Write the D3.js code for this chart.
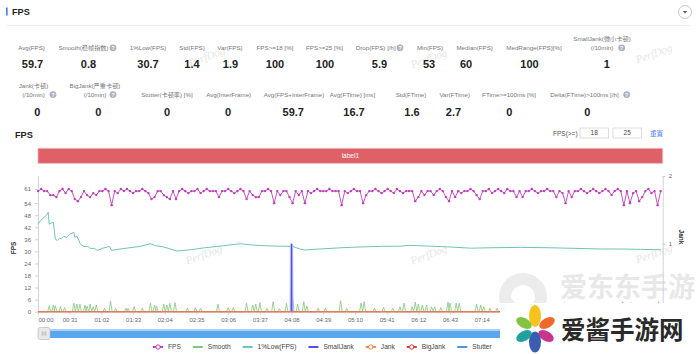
<!DOCTYPE html>
<html>
<head>
<meta charset="utf-8">
<script src="https://cdn.jsdelivr.net/npm/d3@7"></script>
<style>
  body { margin: 0; background: #fff; }
  svg { display: block; font-family: "Liberation Sans", Arial, "Noto Sans CJK SC", sans-serif; }
</style>
</head>
<body>
<svg id="fps-chart" width="700" height="354"></svg>
<script>
// ---- data ----
const durationSec = 611;
const fpsStep = 3; // one FPS sample every 3 s
const fpsValues = [
  60,61,60,60,58,58,57,60,61,59,61,60,56,55,57,60,58,
  57,59,58,60,60,61,60,53,60,59,61,60,61,60,59,60,60,
  61,60,59,56,57,60,60,58,57,56,60,56,60,61,60,59,60,
  60,61,59,60,61,60,60,60,57,60,60,61,60,59,60,61,60,
  56,60,58,57,57,60,60,61,60,54,60,58,60,60,57,54,60,
  58,60,54,60,59,60,61,60,60,60,61,60,60,60,53,60,59,
  60,61,60,60,54,58,60,60,61,60,59,60,61,60,59,61,60,
  59,60,60,60,55,57,60,58,60,60,58,60,61,60,57,55,60,
  57,60,59,60,60,61,60,58,56,60,60,61,59,60,61,60,59,
  61,60,60,57,60,57,60,60,61,60,59,60,60,61,60,60,57,
  60,59,54,60,57,60,60,61,60,59,60,61,60,59,60,61,60,
  58,60,61,60,53,60,54,59,60,55,57,60,61,59,60,53,60
];

const lowFpsTimes = [0,2,5,9,10,11,13,15,17,19,21,23,25,28,31,35,36,38,40,41,43,45,49,51,55,
  58,63,70,72,78,85,93,100,110,115,122,129,136,149,163,176,198,209,222,237,249,256,261,276,296,
  315,335,354,364,384,403,423,442,472,501,526,550,570,589,609];
const lowFpsValues = [43.5,45,46.5,48.5,49.5,43.5,44,44.5,36,35.5,36.5,36.5,37.5,37,38.5,39.5,37,37.5,35.5,34,33,32.5,32.5,31.5,31.5,
  30.5,31.5,32.5,30.5,31,31.5,32,32.5,33.8,32.8,32.3,31.3,30.2,30.8,31.8,32.5,33.8,33.2,32.8,32.6,32.5,31.2,30.7,31.2,31.8,
  32.2,32.5,32.6,33,32.6,32.2,31.6,31.8,32,31.8,31.5,31.2,31.2,31.0,30.8];

// Smooth: moments where it left 0
const smoothTimes = [11,15,17,22,26,35,38,41,46,48,51,54,57,65,71,76,86,88,94,102,110,114,116,123,126,129,134,146,154,159,
  176,186,191,204,210,213,217,224,230,236,243,249,254,260,263,274,281,296,302,316,319,329,338,347,354,358,366,369,372,376,
  380,385,388,394,401,403,409,412,429,433,436,442,449,469,475,488,506,515,522,536,548,561,572,580,588,592,607];
const smoothValues = [3,3.3,3,2.5,2,4.2,3.8,3.7,3.2,2.8,3.8,2.5,3.3,1.7,5.3,1.7,1.7,1.7,2.5,1.7,4.2,3.3,2.8,3.7,3.3,4.2,4.5,1.7,2,1.7,
  3.7,2,2,4.2,3.3,3.8,4.5,1.7,5,1.5,4.2,7.2,3.7,5,2.8,1.7,1.7,5.5,1.7,4.3,5,1.7,2.2,1.7,2.5,4.3,2.5,4.8,3.8,3.3,
  3.3,2.5,2.5,2,4.8,4.3,4.3,4.3,3.8,3.3,2.5,1.7,1.7,3,3,2,3,4.5,3,2,2,2.5,5,4.5,4,3,5];

const smallJankTimes = [248];
const smallJankValues = [1];
const jankTimes = [];
const jankValues = [];
const bigJankTimes = [];
const bigJankValues = [];

// only the labels that are not hidden behind the corner logo
const xTickLabels = ["00:00","00:31","01:02","01:33","02:04","02:35","03:06","03:37","04:08","04:39",
  "05:10","05:41","06:12","06:43","07:14"];
const fpsTickValues = [0, 6, 12, 18, 24, 30, 36, 42, 48, 54, 61];
const jankTickValues = [1, 2];

const legendNames = ["FPS", "Smooth", "1%Low(FPS)", "SmallJank", "Jank", "BigJank", "Stutter"];

const statLabelsTop = ["Avg(FPS)", "Smooth(稳帧指数)", "1%Low(FPS)", "Std(FPS)", "Var(FPS)", "FPS>=18 [%]",
  "FPS>=25 [%]", "Drop(FPS) [/h]", "Min(FPS)", "Median(FPS)", "MedRange(FPS)[%]", "SmallJank(微小卡顿)|(/10min)"];
const statValuesTop = ["59.7", "0.8", "30.7", "1.4", "1.9", "100", "100", "5.9", "53", "60", "100", "1"];
const statLabelsBottom = ["Jank(卡顿)|(/10min)", "BigJank(严重卡顿)|(/10min)", "Stutter(卡顿率) [%]", "Avg(InterFrame)",
  "Avg(FPS+InterFrame)", "Avg(FTime) [ms]", "Std(FTime)", "Var(FTime)", "FTime>=100ms [%]", "Delta(FTime)>100ms [/h]"];
const statValuesBottom = ["0", "0", "0", "0", "59.7", "16.7", "1.6", "2.7", "0", "0"];

const fpsThresholds = ["18", "25"];
const bandLabel = "label1";

// ---- drawing ----
const colors = {
  FPS: "#c13cbd", Smooth: "#7cc87c", "1%Low(FPS)": "#6fc4b9", SmallJank: "#5050ee",
  Jank: "#f2874a", BigJank: "#d8393a", Stutter: "#4f95ea"
};

function drawStats(svg) {
  const topLayout = {
    labelX: [31.5, 83.5, 148, 192, 230, 275, 324.5, 375.8, 430, 474.7, 534, 602],
    valueX: [32.5, 88.5, 148, 192, 230.5, 275, 325, 379.5, 429, 466, 529.5, 606.7],
    helpX: [null, 113, null, null, null, null, null, 400, null, null, null, 621.7],
    labelY: 50, valueY: 68
  };
  const bottomLayout = {
    labelX: [33.5, 95, 167, 228.7, 294, 352.5, 411, 454.7, 509, 584.5],
    valueX: [37.3, 98.3, 167, 228, 293.3, 354, 412, 453.5, 509.3, 587.3],
    helpX: [53, 113, null, null, null, null, null, null, null, 626.7],
    labelY: 96.8, valueY: 115.5
  };

  const drawRow = (labels, values, lay) => {
    labels.forEach((lab, i) => {
      const lines = lab.split("|");
      lines.forEach((ln, j) => {
        svg.append("text")
          .attr("x", lay.labelX[i])
          .attr("y", lay.labelY - (lines.length - 1 - j) * 8.8)
          .attr("text-anchor", "middle")
          .attr("font-size", 6.2)
          .attr("fill", "#777")
          .text(ln);
      });
      if (lay.helpX[i] != null) {
        const g = svg.append("g").attr("transform", `translate(${lay.helpX[i]},${lay.labelY - 2.2})`);
        g.append("circle").attr("r", 3.4).attr("fill", "#aab3c2");
        g.append("text").attr("y", 2).attr("text-anchor", "middle")
          .attr("font-size", 5.2).attr("font-weight", "bold").attr("fill", "#fff").text("?");
      }
      svg.append("text")
        .attr("x", lay.valueX[i])
        .attr("y", lay.valueY)
        .attr("text-anchor", "middle")
        .attr("font-size", 11)
        .attr("font-weight", "bold")
        .attr("fill", "#222")
        .text(values[i]);
    });
  };
  drawRow(statLabelsTop, statValuesTop, topLayout);
  drawRow(statLabelsBottom, statValuesBottom, bottomLayout);
}

function spikePoints(times, values, half, end) {
  // baseline 0 with a narrow peak at every recorded moment
  const pts = [[0, 0]];
  times.forEach((t, i) => pts.push([t - half, 0], [t, values[i]], [t + half, 0]));
  pts.push([end, 0]);
  return pts;
}

function drawChart() {
  const svg = d3.select("#fps-chart");
  const lastSample = fpsStep * (fpsValues.length - 1);

  // 1. watermarks (under everything)
  const wm = [[208, 60], [430, 62], [655, 57], [205, 258], [430, 258], [655, 257]];
  wm.forEach(([cx, cy]) => {
    svg.append("text")
      .attr("transform", `translate(${cx},${cy}) rotate(-20)`)
      .attr("text-anchor", "middle")
      .attr("font-family", "'Liberation Serif', 'DejaVu Serif', serif")
      .attr("font-style", "italic")
      .attr("font-size", 11)
      .attr("fill", "#e6e6e6")
      .text("PerfDog");
  });

  // 2. page header
  svg.append("rect").attr("x", 6).attr("y", 7.5).attr("width", 1.6).attr("height", 8).attr("fill", "#3b7cf5");
  svg.append("text").attr("x", 12).attr("y", 15).attr("font-size", 9.2).attr("font-weight", "bold")
    .attr("fill", "#222").text("FPS");
  svg.append("line").attr("x1", 7).attr("x2", 690).attr("y1", 25.5).attr("y2", 25.5)
    .attr("stroke", "#ececec");
  svg.append("circle").attr("cx", 685).attr("cy", 12).attr("r", 6.5)
    .attr("fill", "#fff").attr("stroke", "#c8c8c8");
  svg.append("path").attr("d", "M682.6,10.9 L687.4,10.9 L685,13.5 Z").attr("fill", "#666");

  drawStats(svg);

  // 3. chart header
  svg.append("text").attr("x", 15).attr("y", 137.5).attr("font-size", 9.2).attr("font-weight", "bold")
    .attr("fill", "#222").text("FPS");
  svg.append("text").attr("x", 553).attr("y", 135.5).attr("font-size", 6.5).attr("fill", "#555").text("FPS(>=)");
  fpsThresholds.forEach((v, i) => {
    const bx = 580 + i * 33;
    svg.append("rect").attr("x", bx).attr("y", 128).attr("width", 28.5).attr("height", 10)
      .attr("fill", "#fff").attr("stroke", "#cfcfcf").attr("stroke-width", 0.7);
    svg.append("text").attr("x", bx + 14.2).attr("y", 135.4).attr("text-anchor", "middle")
      .attr("font-size", 6.5).attr("fill", "#444").text(v);
  });
  svg.append("text").attr("x", 650).attr("y", 135.5).attr("font-size", 6.5).attr("fill", "#4a7cf6").text("重置");

  // 4. scales
  const x = d3.scaleLinear().domain([0, durationSec]).range([38, 662.7]);
  const yFps = d3.scaleLinear().domain([0, 67.5]).range([311.7, 176]);
  const yJank = d3.scaleLinear().domain([0, 2]).range([311.7, 176]);

  // label band
  svg.append("rect").attr("x", x(0)).attr("y", 148.3).attr("width", x(durationSec) - x(0)).attr("height", 15)
    .attr("fill", "#dd6166").attr("stroke", "#f2b3b5").attr("stroke-width", 0.8);
  svg.append("text").attr("x", (x(0) + x(durationSec)) / 2).attr("y", 158.3).attr("text-anchor", "middle")
    .attr("font-size", 6.5).attr("fill", "#fff").text(bandLabel);

  // big grey watermark
  const wg = svg.append("g");
  wg.append("circle").attr("cx", 523).attr("cy", 297).attr("r", 24).attr("fill", "#ececec");
  wg.append("path").attr("d", "M511,297 A12,12 0 1 1 528,308 L519,314 L522,305 A12,12 0 0 1 511,297 Z")
    .attr("fill", "#fff");
  wg.append("text").attr("x", 560).attr("y", 297).attr("font-size", 27).attr("font-weight", "bold")
    .attr("font-family", "'Noto Sans CJK SC', sans-serif").attr("fill", "#e8e8e8").text("爱东东手游");

  // 5. axes
  const styleAxis = g => {
    g.select(".domain").attr("stroke", "#cfd3da");
    g.selectAll(".tick line").attr("stroke", "#cfd3da");
    g.selectAll("text").attr("font-size", 6).attr("fill", "#666")
      .attr("font-family", "'Liberation Sans', Arial, sans-serif");
  };

  svg.append("g")
    .attr("transform", `translate(0,${yFps(0)})`)
    .call(d3.axisBottom(x)
      .tickValues(xTickLabels.map(s => +s.slice(0, 2) * 60 + +s.slice(3)))
      .tickFormat((d, i) => xTickLabels[i])
      .tickSize(3).tickSizeOuter(0).tickPadding(3.5))
    .call(styleAxis)
    .call(g => g.select(".tick text").attr("text-anchor", "start"));

  svg.append("g")
    .attr("transform", `translate(${x(0)},0)`)
    .call(d3.axisLeft(yFps).tickValues(fpsTickValues).tickSize(3).tickSizeOuter(0).tickPadding(4))
    .call(styleAxis);

  svg.append("g")
    .attr("transform", `translate(${x(durationSec)},0)`)
    .call(d3.axisRight(yJank).tickValues(jankTickValues).tickFormat(d3.format("d"))
      .tickSize(3).tickSizeOuter(0).tickPadding(3))
    .call(styleAxis);

  svg.append("text").attr("transform", "translate(16,248) rotate(-90)").attr("text-anchor", "middle")
    .attr("font-size", 6.5).attr("font-weight", "bold").attr("fill", "#333").text("FPS");
  svg.append("text").attr("transform", "translate(679,237) rotate(90)").attr("text-anchor", "middle")
    .attr("font-size", 6.5).attr("font-weight", "bold").attr("fill", "#333").text("Jank");

  // 6. series
  const lineFps = d3.line().x(d => x(d[0])).y(d => yFps(d[1]));
  const lineJank = d3.line().x(d => x(d[0])).y(d => yJank(d[1]));

  const lowPts = lowFpsTimes.map((t, i) => [t, lowFpsValues[i]]);
  svg.append("path").datum(lowPts).attr("d", lineFps)
    .attr("fill", "none").attr("stroke", colors["1%Low(FPS)"]).attr("stroke-width", 1);

  svg.append("path").datum(spikePoints(smoothTimes, smoothValues, 1.5, lastSample))
    .attr("d", lineFps).attr("fill", "none").attr("stroke", colors.Smooth).attr("stroke-width", 0.8);

  // SmallJank: only its peak, the flat part sits under the Jank line
  const sjPts = spikePoints(smallJankTimes, smallJankValues, 0.3, lastSample).slice(1, -1);
  svg.append("path").datum(sjPts).attr("d", lineJank)
    .attr("fill", "none").attr("stroke", "#b8b8fa").attr("stroke-width", 3.2);
  svg.append("path").datum(sjPts).attr("d", lineJank)
    .attr("fill", "none").attr("stroke", colors.SmallJank).attr("stroke-width", 1);

  svg.append("path").datum(spikePoints(bigJankTimes, bigJankValues, 0.5, lastSample))
    .attr("d", lineJank).attr("fill", "none").attr("stroke", colors.BigJank).attr("stroke-width", 1);
  svg.append("path").datum(spikePoints(jankTimes, jankValues, 0.5, lastSample))
    .attr("d", lineJank).attr("fill", "none").attr("stroke", colors.Jank).attr("stroke-width", 1.1);

  const fpsPts = fpsValues.map((v, i) => [i * fpsStep, v]);
  svg.append("path").datum(fpsPts).attr("d", lineFps)
    .attr("fill", "none").attr("stroke", colors.FPS).attr("stroke-width", 0.9);
  svg.selectAll(".fps-dot")
    .data(fpsPts)
    .join("circle")
    .attr("class", "fps-dot")
    .attr("cx", d => x(d[0]))
    .attr("cy", d => yFps(d[1]))
    .attr("r", 1.2)
    .attr("fill", colors.FPS);

  // 7. slider
  svg.append("rect").attr("x", x(0)).attr("y", 329.5).attr("width", x(durationSec) - x(0)).attr("height", 8.5)
    .attr("fill", "#5aa6ee");
  svg.append("rect").attr("x", x(0)).attr("y", 329.5).attr("width", x(durationSec) - x(0)).attr("height", 1.5)
    .attr("fill", "#a9d0f7");
  svg.append("rect").attr("x", 38).attr("y", 327.5).attr("width", 12).attr("height", 12).attr("rx", 2)
    .attr("fill", "#e9e9e9").attr("stroke", "#bdbdbd").attr("stroke-width", 0.7);
  [42.2, 44, 45.8].forEach(gx => svg.append("line").attr("x1", gx).attr("x2", gx).attr("y1", 331.5).attr("y2", 335.5)
    .attr("stroke", "#999").attr("stroke-width", 0.6));

  // 8. legend
  const legend = svg.append("g").attr("transform", "translate(153,347)");
  let lx = 0;
  legendNames.forEach(name => {
    const g = legend.append("g").attr("transform", `translate(${lx},0)`);
    g.append("line").attr("x1", 0).attr("x2", 10).attr("y1", 0).attr("y2", 0)
      .attr("stroke", colors[name]).attr("stroke-width", 2);
    if (["FPS", "Jank", "BigJank"].includes(name)) {
      g.append("circle").attr("cx", 5).attr("r", 2.2).attr("fill", "#fff")
        .attr("stroke", colors[name]).attr("stroke-width", 1);
    }
    const t = g.append("text").attr("x", 15).attr("y", 2.3).attr("font-size", 6.6).attr("fill", "#444").text(name);
    lx += 15 + t.node().getComputedTextLength() + 12;
  });

  // 9. site logo over the corner
  svg.append("rect").attr("x", 500).attr("y", 303).attr("width", 200).attr("height", 51).attr("fill", "#fff");
  const petals = [
    [0, -13, 6, 11, 0, "#f6c21c"], [12, -6, 8.5, 5, -30, "#f0692a"], [11, 7, 8.5, 5, 30, "#c8338f"],
    [0, 13, 6, 10.5, 0, "#3a5db0"], [-11, 7, 8.5, 5, -30, "#1fa19f"], [-11, -6, 8.5, 5, 30, "#82c341"]
  ];
  const flower = svg.append("g").attr("transform", "translate(535,329)");
  petals.forEach(([px, py, rx, ry, rot, c]) => {
    flower.append("ellipse").attr("transform", `translate(${px},${py}) rotate(${rot})`)
      .attr("rx", rx).attr("ry", ry).attr("fill", c);
  });
  svg.append("text").attr("x", 561).attr("y", 339).attr("font-size", 24.5).attr("font-weight", "bold")
    .attr("font-family", "'Noto Sans CJK SC', sans-serif").attr("fill", "#2a2a2a").text("爱酱手游网");
}

drawChart();
</script>
</body>
</html>
